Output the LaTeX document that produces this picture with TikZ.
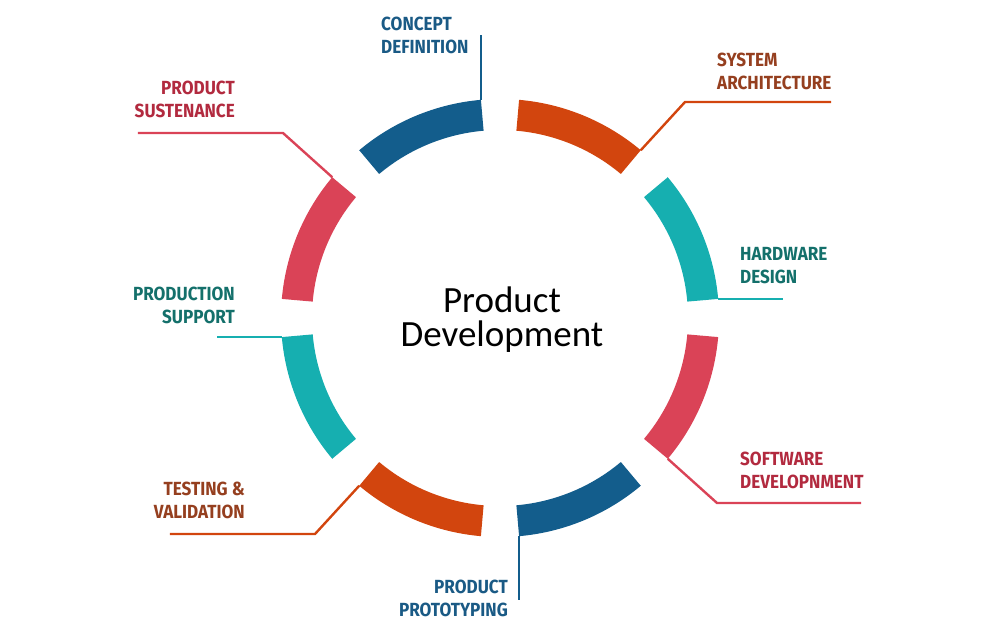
\documentclass[tikz,border=0pt]{standalone}
\usepackage{fontspec}
\setmainfont{Carlito}
\newfontfamily\lblfont[FakeStretch=0.9]{Fira Sans}
\usetikzlibrary{calc}
\definecolor{segblue}{HTML}{135D8C}
\definecolor{segorange}{HTML}{D2450E}
\definecolor{segteal}{HTML}{16AFB0}
\definecolor{segred}{HTML}{DA4357}
\definecolor{txtblue}{HTML}{1A5A85}
\definecolor{txtbrown}{HTML}{953F1F}
\definecolor{txtteal}{HTML}{14706B}
\definecolor{txtred}{HTML}{B22A3F}
\tikzset{
	lead/.style={draw=#1, line width=2.4pt},
	lbl/.style={font=\lblfont\bfseries\fontsize{19}{23}\selectfont, inner sep=0pt, text=#1}
}

\begin{document}
\begin{tikzpicture}[x=1pt, y=1pt]
	\useasboundingbox (-500,-314) rectangle (500,318);

	% ring
	\foreach \a/\c in {95/segblue, 50/segorange, 5/segteal, -40/segred, -85/segblue, -130/segorange, -175/segteal, 140/segred}
		\fill[\c] (\a:219) arc[start angle=\a, end angle=\a+35, radius=219] -- (\a+35:188) arc[start angle=\a+35, end angle=\a, radius=188] -- cycle;

	\node[font=\fontsize{37}{34}\selectfont, align=center] (pd) at (2,-2) {Product\\Development};

	\coordinate (cd) at (95:219);
	\coordinate (sa) at (50:219);
	\coordinate (hw) at (5:219);
	\coordinate (sw) at (-40:219);
	\coordinate (pp) at (-85:219);
	\coordinate (tv) at (-130:219);
	\coordinate (ps) at (-175:219);
	\coordinate (su) at (140:219);

	\coordinate (cdend) at (cd |- 0,283);
	\coordinate (saknee) at (185,216);
	\coordinate (saend) at (331,216);
	\coordinate (hwend) at (hw -| 283,0);
	\coordinate (swknee) at (217,-185);
	\coordinate (swend) at (361,-185);
	\coordinate (ppend) at (pp |- 0,-282);
	\coordinate (tvknee) at (-185,-216);
	\coordinate (tvend) at (-330,-216);
	\coordinate (psend) at (ps -| -283,0);
	\coordinate (suknee) at (-217,185);
	\coordinate (suend) at (-362,185);

	\draw[lead=segblue] (cd) -- (cdend);
	\draw[lead=segorange] (sa) -- (saknee) -- (saend);
	\draw[lead=segteal] (hw) -- (hwend);
	\draw[lead=segred] (sw) -- (swknee) -- (swend);
	\draw[lead=segblue] (pp) -- (ppend);
	\draw[lead=segorange] (tv) -- (tvknee) -- (tvend);
	\draw[lead=segteal] (ps) -- (psend);
	\draw[lead=segred] (su) -- (suknee) -- (suend);

	\node[lbl=txtblue, anchor=north west, align=left] (cdl) at (-119,301) {CONCEPT\\DEFINITION};
	\node[lbl=txtbrown, anchor=north west, align=left] (sal) at (217,265) {SYSTEM\\ARCHITECTURE};
	\node[lbl=txtteal, anchor=north west, align=left] (hwl) at (240,71) {HARDWARE\\DESIGN};
	\node[lbl=txtred, anchor=north west, align=left] (swl) at (240,-134) {SOFTWARE\\DEVELOPNMENT};
	\node[lbl=txtblue, anchor=north east, align=right] (ppl) at (8,-262) {PRODUCT\\PROTOTYPING};
	\node[lbl=txtbrown, anchor=north east, align=right] (tvl) at (-255,-164) {TESTING \&\\VALIDATION};
	\node[lbl=txtteal, anchor=north east, align=right] (psl) at (-265,31) {PRODUCTION\\SUPPORT};
	\node[lbl=txtred, anchor=north east, align=right] (sul) at (-265,237) {PRODUCT\\SUSTENANCE};
\end{tikzpicture}
\end{document}
